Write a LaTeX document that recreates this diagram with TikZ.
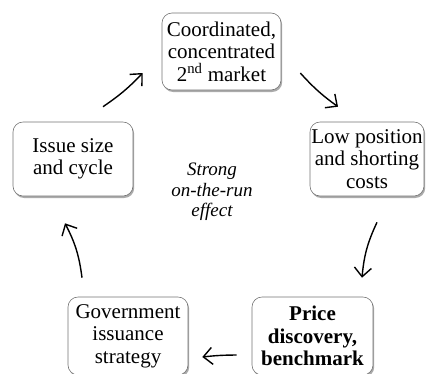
\documentclass[tikz,border=0pt]{standalone}
\usepackage{fontspec}
\setmainfont{Liberation Serif}
\usetikzlibrary{arrows.meta,shadows}
\begin{document}
\begin{tikzpicture}[x=1pt,y=-1pt,
  cyclebox/.style={draw=black!55, line width=0.6pt, fill=white,
    rounded corners=10pt, align=center, inner sep=0pt,
    font=\fontsize{21}{22.5}\selectfont,
    drop shadow={shadow xshift=1.2pt, shadow yshift=-2pt, fill=black!60, opacity=0.55}},
  flow/.style={line width=1.4pt,
    -{Straight Barb[length=9pt,width=17pt,line width=1.4pt]}}]
\useasboundingbox (0,0) rectangle (427,373);

\node[cyclebox, minimum width=119pt, minimum height=77pt] (top) at (221.5,51.5)
  {Coordinated,\\concentrated\\2\textsuperscript{nd} market};
\node[cyclebox, minimum width=114pt, minimum height=74pt] (right) at (367,159)
  {Low position\\and shorting\\costs};
\node[cyclebox, minimum width=121pt, minimum height=78pt] (price) at (312.5,336)
  {\bfseries Price\\\bfseries discovery,\\\bfseries benchmark};
\node[cyclebox, minimum width=120pt, minimum height=78pt] (govt) at (128,336)
  {Government\\issuance\\strategy};
\node[cyclebox, minimum width=120pt, minimum height=74pt] (left) at (73,159)
  {Issue size\\and cycle};

\node[align=center, font=\fontsize{19}{20.5}\selectfont\itshape] (core) at (212,192)
  {Strong\\on-the-run\\effect};

\draw[flow] ([shift={(30,-15)}]left.north) to[bend right=6] ([shift={(-19,21.5)}]top.west);
\draw[flow] ([shift={(19,21.5)}]top.east) to[bend right=6] ([shift={(-29,-15)}]right.north);
\draw[flow] ([shift={(10,26)}]right.south) to[bend right=10] ([shift={(49.5,-19)}]price.north);
\draw[flow] ([shift={(-15,19)}]price.west) to[bend right=3] ([shift={(14,21)}]govt.east);
\draw[flow] ([shift={(-46,-19)}]govt.north) to[bend right=10] ([shift={(-8,27)}]left.south);
\end{tikzpicture}
\end{document}
